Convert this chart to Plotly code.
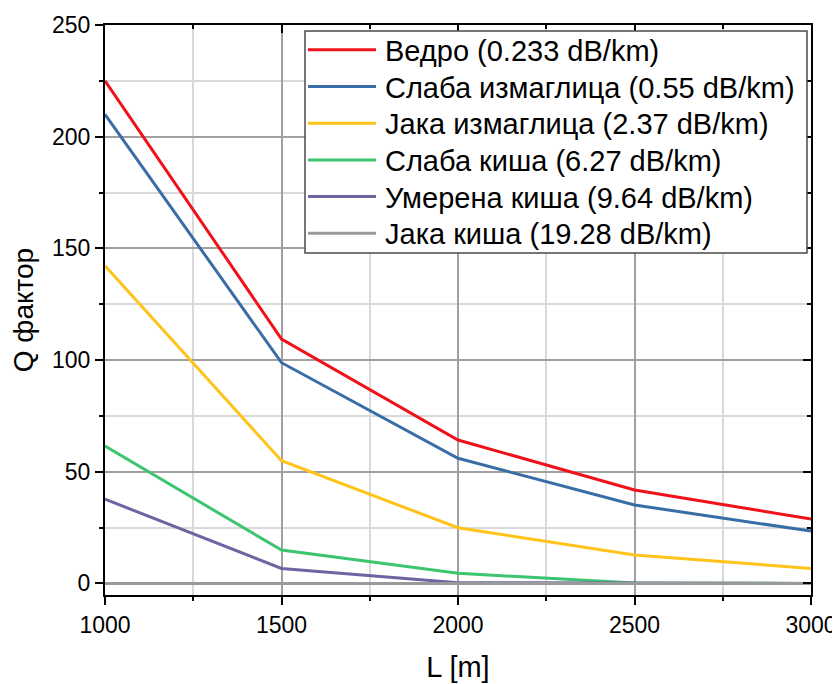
import plotly.graph_objects as go

L = [1000, 1500, 2000, 2500, 3000]
names = [
    "Ведро (0.233 dB/km)",
    "Слаба измаглица (0.55 dB/km)",
    "Јака измаглица (2.37 dB/km)",
    "Слаба киша (6.27 dB/km)",
    "Умерена киша (9.64 dB/km)",
    "Јака киша (19.28 dB/km)",
]
q_vedro = [225.0, 109.4, 64.2, 41.8, 28.8]
q_slaba_izm = [210.0, 98.8, 56.0, 35.1, 23.4]
q_jaka_izm = [142.2, 54.9, 24.9, 12.7, 6.7]
q_slaba_kisa = [61.5, 14.9, 4.5, 0.2, 0.0]
q_umerena_kisa = [37.7, 6.7, 0.3, 0.0, 0.0]
q_jaka_kisa = [0.0, 0.0, 0.0, 0.0, 0.0]
series = [q_vedro, q_slaba_izm, q_jaka_izm, q_slaba_kisa, q_umerena_kisa, q_jaka_kisa]
colors = ["#f0121b", "#386ea5", "#ffc31a", "#3dc46e", "#6b65a0", "#9a9a9a"]

FONT = "Liberation Sans, Arial, sans-serif"

fig = go.Figure()
for name, ys, c in zip(names, series, colors):
    fig.add_trace(go.Scatter(x=L, y=ys, mode="lines", name=name, showlegend=False,
                             line=dict(color=c, width=3)))

# helper trace for top/right inward tick axes
fig.add_trace(go.Scatter(x=[1000], y=[0], xaxis="x2", yaxis="y2", mode="lines",
                         showlegend=False, hoverinfo="skip", line=dict(width=0)))

xr = [1000, 3000]
yr = [-5.2, 250]

# legend box drawn in plot-domain (paper) coordinates
LEG_X0, LEG_X1, LEG_Y0, LEG_Y1 = 0.2833, 0.9943, 0.600, 0.9895
SYM_X0, SYM_X1, TXT_X = 0.2875, 0.3839, 0.3938
ROW0, ROW_STEP = 0.9545, 0.06439

shapes = [dict(type="rect", xref="paper", yref="paper",
               x0=LEG_X0, x1=LEG_X1, y0=LEG_Y0, y1=LEG_Y1,
               line=dict(color="#4a4a4a", width=1.5), fillcolor="white", layer="above")]
annotations = []
for i, (name, c) in enumerate(zip(names, colors)):
    yy = ROW0 - i * ROW_STEP
    shapes.append(dict(type="line", xref="paper", yref="paper",
                       x0=SYM_X0, x1=SYM_X1, y0=yy + 0.002, y1=yy + 0.002,
                       line=dict(color=c, width=3), layer="above"))
    annotations.append(dict(xref="paper", yref="paper", x=TXT_X, y=yy,
                            xanchor="left", yanchor="middle", showarrow=False,
                            text=name, font=dict(size=29, family=FONT, color="black")))

fig.update_layout(
    width=832, height=676,
    margin=dict(l=97, r=29, t=17, b=89, autoexpand=False),
    paper_bgcolor="white", plot_bgcolor="white",
    font=dict(family=FONT, color="black"),
    shapes=shapes, annotations=annotations,
    xaxis=dict(
        range=xr, dtick=500, tick0=1000, automargin=False,
        ticks="outside", ticklen=8, tickwidth=1.5, tickcolor="black",
        showline=True, linecolor="black", linewidth=2,
        showgrid=True, gridcolor="#a0a0a0", gridwidth=1.5,
        zeroline=False,
        minor=dict(dtick=250, ticklen=4, tickwidth=1.5, tickcolor="black",
                   ticks="outside", showgrid=True, gridcolor="#d9d9d9", gridwidth=1.5),
        tickfont=dict(size=23),
        title=dict(text="L [m]", font=dict(size=29), standoff=20),
    ),
    yaxis=dict(
        range=yr, dtick=50, tick0=0, automargin=False,
        ticks="outside", ticklen=8, tickwidth=1.5, tickcolor="black",
        showline=True, linecolor="black", linewidth=2,
        showgrid=True, gridcolor="#a0a0a0", gridwidth=1.5,
        zeroline=False,
        minor=dict(dtick=25, ticklen=4, tickwidth=1.5, tickcolor="black",
                   ticks="outside", showgrid=True, gridcolor="#d9d9d9", gridwidth=1.5),
        tickfont=dict(size=23),
        title=dict(text="Q фактор", font=dict(size=28), standoff=12),
    ),
    xaxis2=dict(
        range=xr, overlaying="x", side="top", dtick=500, tick0=1000, automargin=False,
        ticks="inside", ticklen=8, tickwidth=1.5, tickcolor="black",
        showline=True, linecolor="black", linewidth=2,
        showgrid=False, zeroline=False, showticklabels=False,
        minor=dict(dtick=250, ticklen=4, tickwidth=1.5, tickcolor="black", ticks="inside"),
    ),
    yaxis2=dict(
        range=yr, overlaying="y", side="right", dtick=50, tick0=0, automargin=False,
        ticks="inside", ticklen=8, tickwidth=1.5, tickcolor="black",
        showline=True, linecolor="black", linewidth=2,
        showgrid=False, zeroline=False, showticklabels=False,
        minor=dict(dtick=25, ticklen=4, tickwidth=1.5, tickcolor="black", ticks="inside"),
    ),
    showlegend=False,
)

fig.write_html("out.html")
